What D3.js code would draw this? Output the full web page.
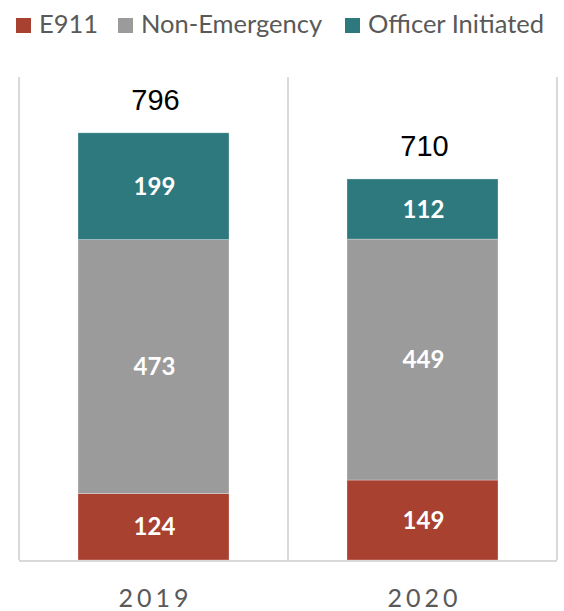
<!DOCTYPE html>
<html>
<head>
<meta charset="utf-8">
<script src="https://cdn.jsdelivr.net/npm/d3@7"></script>
<style>
  body { margin: 0; background: #fff; }
  text { font-family: Lato, "Open Sans", sans-serif; }
</style>
</head>
<body>
<div id="chart"></div>
<script>
// Calls by type, stacked per year

var years = ["2019", "2020"];
var e911 = [124, 149];
var nonEmergency = [473, 449];
var officerInitiated = [199, 112];
var seriesNames = ["E911", "Non-Emergency", "Officer Initiated"];
var seriesColors = ["#a84130", "#9b9b9b", "#2e797e"];

var svgWidth = 564;
var svgHeight = 611;

var margin = { top: 77, right: 7, bottom: 51, left: 19 };

var width = svgWidth - margin.left - margin.right;
var height = svgHeight - margin.top - margin.bottom;

var svg = d3.select("#chart").append("svg")
  .attr("width", svgWidth)
  .attr("height", svgHeight);

var chartGroup = svg.append("g")
  .attr("transform", `translate(${margin.left}, ${margin.top})`);

// build table for the stack
var table = years.map(function(y, i) {
  return { year: y, "E911": e911[i], "Non-Emergency": nonEmergency[i], "Officer Initiated": officerInitiated[i] };
});
var stacked = d3.stack().keys(seriesNames)(table);

var xBand = d3.scaleBand().domain(years).range([0, width]).padding(0);
var xScale = d3.scaleBand().domain(years).range([0, width])
  .paddingInner(0.4387)
  .paddingOuter(0.21935);
var yScale = d3.scaleLinear().domain([0, 900]).range([height, 0]);
var color = d3.scaleOrdinal().domain(seriesNames).range(seriesColors);

// category separators
var seps = years.map(d => xBand(d)).concat([width]);
chartGroup.selectAll(".sep")
  .data(seps)
  .enter()
  .append("line")
  .attr("x1", d => d)
  .attr("x2", d => d)
  .attr("y1", 0)
  .attr("y2", height)
  .attr("stroke", "#d9d9d9")
  .attr("stroke-width", 2);

// bars
var layers = chartGroup.selectAll(".layer")
  .data(stacked)
  .enter()
  .append("g")
  .attr("fill", d => color(d.key));

layers.selectAll("rect")
  .data(d => d)
  .enter()
  .append("rect")
  .attr("x", d => xScale(d.data.year))
  .attr("y", d => yScale(d[1]))
  .attr("width", xScale.bandwidth())
  .attr("height", d => yScale(d[0]) - yScale(d[1]))
  .attr("stroke", "#ffffff")
  .attr("stroke-opacity", 0.35)
  .attr("stroke-width", 0.8);

// segment labels
layers.selectAll(".segLabel")
  .data(d => d)
  .enter()
  .append("text")
  .attr("x", d => xScale(d.data.year) + xScale.bandwidth() / 2 + 1)
  .attr("y", d => (yScale(d[0]) + yScale(d[1])) / 2)
  .attr("dy", "0.36em")
  .attr("text-anchor", "middle")
  .attr("fill", "#ffffff")
  .attr("font-weight", "bold")
  .attr("font-size", "24px")
  .text(d => d[1] - d[0]);

// totals on top
var lastLayer = stacked[stacked.length - 1];
chartGroup.selectAll(".total")
  .data(lastLayer)
  .enter()
  .append("text")
  .attr("x", d => xScale(d.data.year) + xScale.bandwidth() / 2 + 2)
  .attr("y", d => yScale(d[1]) - 23)
  .attr("text-anchor", "middle")
  .attr("fill", "#000000")
  .style("font-family", "'Liberation Sans', Arial, sans-serif")
  .attr("font-size", "29px")
  .text(d => d[1]);

// bottom axis line
chartGroup.append("line")
  .attr("x1", 0)
  .attr("x2", width)
  .attr("y1", height + 1)
  .attr("y2", height + 1)
  .attr("stroke", "#d9d9d9")
  .attr("stroke-width", 2);

// year labels
chartGroup.selectAll(".yearLabel")
  .data(years)
  .enter()
  .append("text")
  .attr("x", d => xScale(d) + xScale.bandwidth() / 2 + 2)
  .attr("y", height + 47)
  .attr("text-anchor", "middle")
  .attr("fill", "#595959")
  .attr("font-size", "25px")
  .attr("letter-spacing", "4px")
  .text(d => d);

// legend
var legendX = [16, 118, 345];
var legend = svg.selectAll(".legend")
  .data(seriesNames)
  .enter()
  .append("g")
  .attr("transform", (d, i) => `translate(${legendX[i]}, 18)`);

legend.append("rect")
  .attr("width", 15)
  .attr("height", 15)
  .attr("fill", d => color(d));

legend.append("text")
  .attr("x", 23)
  .attr("y", 15)
  .attr("fill", "#595959")
  .attr("font-size", "25.5px")
  .text(d => d);
</script>
</body>
</html>
